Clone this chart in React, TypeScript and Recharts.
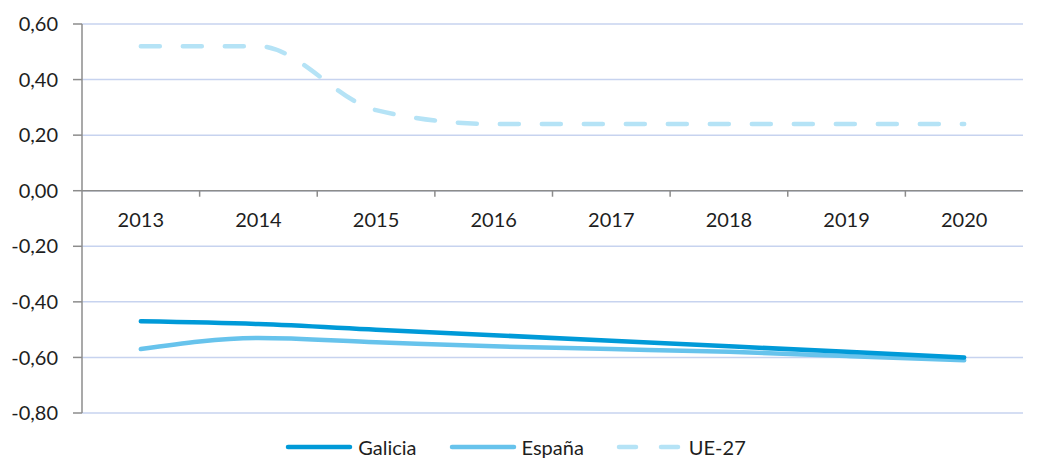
import { LineChart, Line, XAxis, YAxis, CartesianGrid, Legend, ReferenceLine } from 'recharts'

const years = ['2013', '2014', '2015', '2016', '2017', '2018', '2019', '2020']
const galicia = [-0.47, -0.48, -0.5, -0.52, -0.54, -0.56, -0.58, -0.6]
const espana = [-0.57, -0.53, -0.545, -0.56, -0.57, -0.58, -0.595, -0.61]
const ue27 = [0.52, 0.52, 0.29, 0.24, 0.24, 0.24, 0.24, 0.24]
const yTicks = [0.6, 0.4, 0.2, 0, -0.2, -0.4, -0.6, -0.8]

const data = years.map((year, i) => ({
  year,
  galicia: galicia[i],
  espana: espana[i],
  ue27: ue27[i],
}))

const W = 1045
const H = 461
const Y_MIN = -0.8
const Y_MAX = 0.6
const MARGIN = { top: 24, right: 22, left: 0, bottom: 0 }
const LEGEND_H = 30
const X_AXIS_H = 18
const Y_AXIS_W = 82
const PLOT_H = H - MARGIN.top - MARGIN.bottom - LEGEND_H - X_AXIS_H
const PLOT_W = W - MARGIN.left - MARGIN.right - Y_AXIS_W
const BAND = PLOT_W / years.length
const FONT = 'Lato, "Open Sans", sans-serif'
const TEXT = '#1e1e1e'

const COLORS = { galicia: '#009ad8', espana: '#67c3ec', ue27: '#b5e3f6' }

// the category axis sits on the zero line, not at the bottom
// (recharts hands the tick y = plot bottom + tickSize + tickMargin = +8)
function YearTick(props: any) {
  const { x, y, payload, index } = props
  const zeroShift = (-Y_MIN / (Y_MAX - Y_MIN)) * PLOT_H
  const y0 = y - 8 - zeroShift
  return (
    <g>
      {index > 0 && (
        <line x1={x - BAND / 2} x2={x - BAND / 2} y1={y0} y2={y0 + 6} stroke="#8c8c8c" strokeWidth={1.5} />
      )}
      <text x={x} y={y0 + 36} textAnchor="middle" fontSize={20} fontFamily={FONT} fill={TEXT}>
        {payload.value}
      </text>
    </g>
  )
}

function LegendContent() {
  const items = [
    { name: 'Galicia', color: COLORS.galicia, dash: undefined },
    { name: 'España', color: COLORS.espana, dash: undefined },
    { name: 'UE-27', color: COLORS.ue27, dash: '17 25' },
  ]
  return (
    <div style={{ display: 'flex', justifyContent: 'center', gap: 32, fontFamily: FONT, fontSize: 20, color: TEXT, paddingTop: 4, paddingLeft: 8 }}>
      {items.map((it) => (
        <div key={it.name} style={{ display: 'flex', alignItems: 'center', gap: 5 }}>
          <svg width={68} height={10}>
            <line x1={3} x2={65} y1={5} y2={5} stroke={it.color} strokeWidth={4.5} strokeLinecap="round" strokeDasharray={it.dash} />
          </svg>
          <span>{it.name}</span>
        </div>
      ))}
    </div>
  )
}

export default function App() {
  return (
    <div style={{ position: 'absolute', left: 0, top: 0, background: '#fff' }}>
      <LineChart width={W} height={H} data={data} margin={MARGIN}>
        <CartesianGrid vertical={false} stroke="#c7d3ef" strokeWidth={1.5} />
        <XAxis
          dataKey="year"
          scale="band"
          axisLine={false}
          tickLine={false}
          tick={<YearTick />}
          interval={0}
          height={X_AXIS_H}
        />
        <YAxis
          domain={[Y_MIN, Y_MAX]}
          ticks={yTicks}
          width={Y_AXIS_W}
          tickSize={9}
          tickMargin={15}
          axisLine={{ stroke: '#8c8c8c', strokeWidth: 1.5 }}
          tickLine={{ stroke: '#8c8c8c', strokeWidth: 1.5 }}
          tick={{ fontSize: 20, fontFamily: FONT, fill: TEXT }}
          tickFormatter={(v: number) => v.toFixed(2).replace('.', ',')}
        />
        <ReferenceLine y={0} stroke="#8c8c8c" strokeWidth={1.5} />
        <Legend verticalAlign="bottom" height={LEGEND_H} content={<LegendContent />} />
        <Line type="monotone" dataKey="ue27" name="UE-27" stroke={COLORS.ue27} strokeWidth={4.5} strokeDasharray="19 23" strokeLinecap="round" dot={false} isAnimationActive={false} />
        <Line type="monotone" dataKey="espana" name="España" stroke={COLORS.espana} strokeWidth={4.5} strokeLinecap="round" dot={false} isAnimationActive={false} />
        <Line type="monotone" dataKey="galicia" name="Galicia" stroke={COLORS.galicia} strokeWidth={4.5} strokeLinecap="round" dot={false} isAnimationActive={false} />
      </LineChart>
    </div>
  )
}
